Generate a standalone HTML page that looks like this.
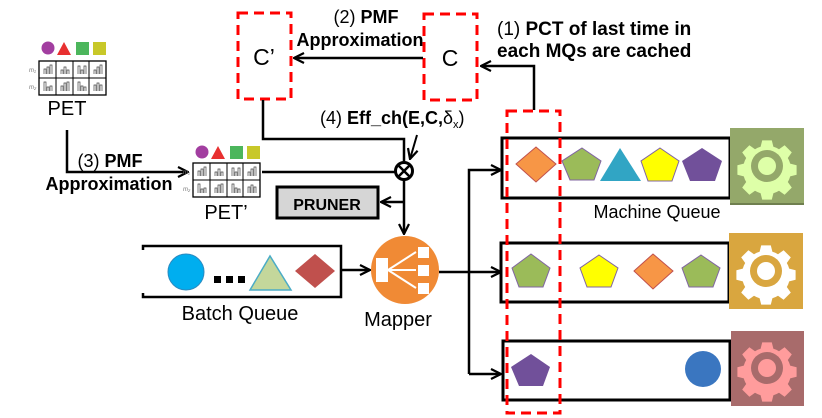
<!DOCTYPE html>
<html><head><meta charset="utf-8"><style>
html,body{margin:0;padding:0;background:#fff;}
svg{display:block;font-family:"Liberation Sans",Arial,sans-serif;}
</style></head><body>
<svg width="822" height="418" viewBox="0 0 822 418" xmlns="http://www.w3.org/2000/svg">
<defs>
<marker id="ar" viewBox="0 0 12 12" refX="11" refY="6" markerWidth="12" markerHeight="12" markerUnits="userSpaceOnUse" orient="auto">
<path d="M1,1 L11,6 L1,11" fill="none" stroke="#000" stroke-width="2.2"/>
</marker>
<g id="gear">
<path transform="scale(0.8)" d="M-6,-32 h12 l2,8 a25,25 0 0 1 7,3 l7,-5 9,9 -5,7 a25,25 0 0 1 3,7 l8,2 v12 l-8,2 a25,25 0 0 1 -3,7 l5,7 -9,9 -7,-5 a25,25 0 0 1 -7,3 l-2,8 h-12 l-2,-8 a25,25 0 0 1 -7,-3 l-7,5 -9,-9 5,-7 a25,25 0 0 1 -3,-7 l-8,-2 v-12 l8,-2 a25,25 0 0 1 3,-7 l-5,-7 9,-9 7,5 a25,25 0 0 1 7,-3 z"/>
</g>
<g id="tbl">
<rect x="0" y="0" width="67" height="34" fill="#fff" stroke="#000" stroke-width="1.3"/>
<path d="M0,17H67M17,0V34M34,0V34M50,0V34" stroke="#000" stroke-width="1"/>
<g fill="none" stroke="#444" stroke-width="0.7">
<path d="M5,13V8h2v5M8,13V6h2v7M11,13V4h2v9"/><path d="M22,13V9h2v4M25,13V6h2v7M28,13V9h2v4"/>
<path d="M39,13V5h2v8M42,13V9h2v4M45,13V5h2v8"/><path d="M55,13V9h2v4M58,13V6h2v7M61,13V4h2v9"/>
<path d="M5,30V21h2v9M8,30V26h2v4M11,30V25h2v5"/><path d="M22,30V25h2v5M25,30V22h2v8M28,30V21h2v9"/>
<path d="M39,30V21h2v9M42,30V25h2v5M45,30V26h2v4"/><path d="M55,30V24h2v6M58,30V22h2v8M61,30V24h2v6"/>
</g>
<text x="-10" y="11" font-size="6" fill="#777" font-style="italic">m₁</text>
<text x="-10" y="28" font-size="6" fill="#777" font-style="italic">m₂</text>
</g>
<g id="hdr">
<circle cx="8" cy="7" r="6.5" fill="#a23ea0"/>
<path d="M17,14 L24,1 L31,14Z" fill="#e83030"/>
<rect x="36" y="1" width="13" height="13" fill="#4cb65c"/>
<rect x="53" y="1" width="13" height="13" fill="#c8c829"/>
</g>
</defs>

<!-- PET -->
<use href="#hdr" x="40" y="41"/>
<use href="#tbl" x="39" y="61"/>
<text x="67" y="115" font-size="20" text-anchor="middle">PET</text>
<polyline points="67,130 67,172 188,172" fill="none" stroke="#000" stroke-width="2.5" marker-end="url(#ar)"/>
<text x="110" y="167" font-size="18" text-anchor="middle">(3) <tspan font-weight="bold">PMF</tspan></text>
<text x="109" y="190" font-size="18" font-weight="bold" text-anchor="middle">Approximation</text>

<!-- PET' -->
<use href="#hdr" x="194" y="145"/>
<use href="#tbl" x="193" y="163"/>
<text x="226" y="219" font-size="20" text-anchor="middle">PET’</text>

<!-- C' and C -->
<rect x="238" y="13" width="53" height="86" fill="none" stroke="#f00" stroke-width="3" stroke-dasharray="10,6"/>
<text x="264" y="65" font-size="23" text-anchor="middle">C’</text>
<rect x="424" y="14" width="53" height="86" fill="none" stroke="#f00" stroke-width="3" stroke-dasharray="10,6"/>
<text x="450" y="66" font-size="23" text-anchor="middle">C</text>
<line x1="423" y1="58" x2="294" y2="58" stroke="#000" stroke-width="2.5" marker-end="url(#ar)"/>
<text x="366" y="23" font-size="18" text-anchor="middle">(2) <tspan font-weight="bold">PMF</tspan></text>
<text x="360" y="46" font-size="18" font-weight="bold" text-anchor="middle">Approximation</text>
<polyline points="534,110 534,66 481,66" fill="none" stroke="#000" stroke-width="2.5" marker-end="url(#ar)"/>
<text x="497" y="35" font-size="19">(1) <tspan font-weight="bold">PCT of last time in</tspan></text>
<text x="497" y="57" font-size="19" font-weight="bold">each MQs are cached</text>

<!-- (4) -->
<text x="320" y="124" font-size="18">(4) <tspan font-weight="bold">Eff_ch(E,C,</tspan>δ<tspan font-size="11" dy="4">x</tspan><tspan dy="-4">)</tspan></text>
<line x1="417" y1="135" x2="410" y2="159" stroke="#000" stroke-width="2" marker-end="url(#ar)"/>
<polyline points="263,100 263,139 404,139 404,161" fill="none" stroke="#000" stroke-width="2.5"/>
<line x1="262" y1="172" x2="395" y2="172" stroke="#000" stroke-width="2.5"/>
<circle cx="404" cy="171" r="8.5" fill="#fff" stroke="#000" stroke-width="3"/>
<path d="M398,165L410,177M410,165L398,177" stroke="#000" stroke-width="2.5"/>
<line x1="404" y1="180" x2="404" y2="234" stroke="#000" stroke-width="2.5" marker-end="url(#ar)"/>
<line x1="404" y1="202" x2="381" y2="202" stroke="#000" stroke-width="2.5" marker-end="url(#ar)"/>
<rect x="277" y="187" width="101" height="31" fill="#d6d6d6" stroke="#000" stroke-width="3"/>
<text x="327" y="210" font-size="16" font-weight="bold" text-anchor="middle">PRUNER</text>

<!-- Batch queue -->
<polyline points="143,250 143,246 341,246 341,297 143,297 143,293" fill="none" stroke="#000" stroke-width="2.5"/>
<circle cx="186" cy="272" r="18" fill="#00aeef" stroke="#2a8ac0"/>
<rect x="214" y="276" width="7" height="7"/><rect x="226" y="276" width="7" height="7"/><rect x="238" y="276" width="7" height="7"/>
<path d="M250,290 L270,256 L291,290Z" fill="#c4d79b" stroke="#4bacc6" stroke-width="1.5"/>
<path d="M295,271 L315,254 L335,271 L315,288Z" fill="#c0504d"/>
<line x1="341" y1="270" x2="370" y2="270" stroke="#000" stroke-width="2.5" marker-end="url(#ar)"/>
<text x="240" y="320" font-size="20" text-anchor="middle">Batch Queue</text>

<!-- Mapper -->
<circle cx="405" cy="270" r="34" fill="#f08a35"/>
<rect x="376" y="258" width="12" height="24" fill="#fff"/>
<rect x="418" y="247" width="11" height="11" fill="#fff"/>
<rect x="418" y="265" width="11" height="11" fill="#fff"/>
<rect x="418" y="283" width="11" height="11" fill="#fff"/>
<path d="M388,270 L416,252 M388,270 L416,270 M388,270 L416,288" stroke="#fff" stroke-width="2"/>
<text x="398" y="326" font-size="20" text-anchor="middle">Mapper</text>

<!-- branches -->
<line x1="439" y1="272" x2="469" y2="272" stroke="#000" stroke-width="2.5"/>
<polyline points="469,374 469,170 501,170" fill="none" stroke="#000" stroke-width="2.5" marker-end="url(#ar)"/>
<line x1="469" y1="272" x2="501" y2="272" stroke="#000" stroke-width="2.5" marker-end="url(#ar)"/>
<line x1="469" y1="374" x2="501" y2="374" stroke="#000" stroke-width="2.5" marker-end="url(#ar)"/>

<!-- Machine queues -->
<rect x="502" y="138" width="228" height="60" fill="none" stroke="#000" stroke-width="3"/>
<rect x="501" y="243" width="228" height="59" fill="none" stroke="#000" stroke-width="3"/>
<rect x="503" y="341" width="227" height="59" fill="none" stroke="#000" stroke-width="3"/>
<text x="657" y="218" font-size="18" text-anchor="middle">Machine Queue</text>

<!-- MQ1 shapes -->
<path d="M516,164 L536,147 L556,164 L536,182Z" fill="#f79646" stroke="#c0504d"/>
<path d="M582,148 L601,161 L594,180 L570,180 L562,161Z" fill="#9bbb59" stroke="#8064a2"/>
<path d="M600,181 L620,148 L641,181Z" fill="#31a5c4"/>
<path d="M660,148 L679,161 L672,181 L648,181 L641,161Z" fill="#ffff00" stroke="#8064a2"/>
<path d="M702,148 L722,161 L715,181 L690,181 L682,161Z" fill="#71509a"/>
<!-- MQ2 -->
<path d="M531,254 L550,268 L543,287 L519,287 L512,268Z" fill="#9bbb59" stroke="#8064a2"/>
<path d="M599,255 L618,268 L611,287 L587,287 L580,268Z" fill="#ffff00" stroke="#8064a2"/>
<path d="M634,271 L653,254 L673,271 L653,289Z" fill="#f79646" stroke="#c0504d"/>
<path d="M701,255 L720,268 L713,287 L689,287 L682,268Z" fill="#9bbb59" stroke="#8064a2"/>
<!-- MQ3 -->
<path d="M531,354 L550,367 L543,386 L519,386 L511,367Z" fill="#71509a"/>
<circle cx="703" cy="369" r="18" fill="#3a76c0"/>

<!-- Gears -->
<rect x="730" y="128" width="74" height="77" fill="#94a86a"/>
<rect x="730" y="203" width="74" height="2" fill="#6f7f4f"/>
<use href="#gear" x="767" y="166" fill="#deffa8"/>
<circle cx="767" cy="166" r="16" fill="#94a86a"/><circle cx="767" cy="166" r="9" fill="#deffa8"/>
<rect x="729" y="233" width="74" height="76" fill="#d9a63f"/>
<use href="#gear" x="766" y="271" fill="#fff"/>
<circle cx="766" cy="271" r="16" fill="#d9a63f"/><circle cx="766" cy="271" r="9" fill="#fff"/>
<rect x="731" y="331" width="73" height="75" fill="#a86b6b"/>
<use href="#gear" x="767" y="368" fill="#ff9c9c"/>
<circle cx="767" cy="368" r="16" fill="#a86b6b"/><circle cx="767" cy="368" r="9" fill="#ff9c9c"/>

<!-- red dashed column -->
<rect x="507" y="111" width="53" height="302" fill="none" stroke="#f00" stroke-width="3" stroke-dasharray="10,6"/>
</svg>
</body></html>
